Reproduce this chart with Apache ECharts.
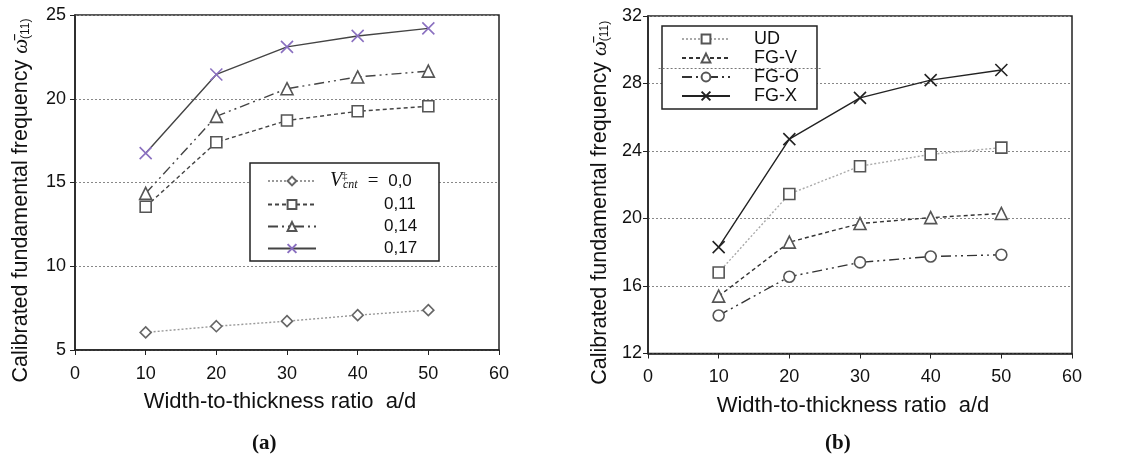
<!DOCTYPE html>
<html>
<head>
<meta charset="utf-8">
<script src="https://cdn.jsdelivr.net/npm/echarts@6/dist/echarts.min.js"></script>
<style>
  html, body { margin: 0; padding: 0; background: #fff; }
  #chart { width: 1129px; height: 459px; }
</style>
</head>
<body>
<div id="chart"></div>
<script>
// width-to-thickness ratio a/d
const ratios = [10, 20, 30, 40, 50];

// (a) CNT volume fraction V*cnt
const vcnt00 = [6.05, 6.42, 6.72, 7.08, 7.38];
const vcnt011 = [13.55, 17.4, 18.7, 19.25, 19.55];
const vcnt014 = [14.35, 18.95, 20.6, 21.3, 21.65];
const vcnt017 = [16.75, 21.45, 23.1, 23.75, 24.2];

// (b) CNT distribution
const ud = [16.8, 21.45, 23.1, 23.8, 24.2];
const fgV = [15.4, 18.6, 19.7, 20.05, 20.3];
const fgO = [14.25, 16.55, 17.4, 17.75, 17.85];
const fgX = [18.3, 24.7, 27.15, 28.2, 28.8];

// stray dotted rule that runs through legend (b) in the original figure
const strayRuleB = [[1.5, 28.9], [24.5, 28.9]];

const FONT = '"Liberation Sans", Arial, sans-serif';
const SERIF = '"Liberation Serif", "DejaVu Serif", serif';
const CROSS = 'path://M0,0L10,10M10,0L0,10';

const pairs = (ys) => ratios.map((x, i) => [x, ys[i]]);

const chart = echarts.init(document.getElementById('chart'), null, { renderer: 'canvas' });

function xAxisCfg(gridIndex) {
  return {
    gridIndex,
    type: 'value',
    min: 0,
    max: 60,
    interval: 10,
    name: 'Width-to-thickness ratio  a/d',
    nameLocation: 'middle',
    nameGap: 41,
    nameTextStyle: { color: '#111', fontSize: 22, fontFamily: FONT, padding: [0, 14, 0, 0] },
    axisLine: { lineStyle: { color: '#222', width: 1.5 } },
    axisTick: { length: 5, lineStyle: { color: '#222' } },
    axisLabel: { color: '#111', fontSize: 18, fontFamily: FONT, margin: 15 },
    splitLine: { show: false },
  };
}

function yAxisCfg(gridIndex, min, max, interval, nameGap, labelMargin) {
  return {
    gridIndex,
    type: 'value',
    min,
    max,
    interval,
    name: 'Calibrated fundamental frequency {om|ω̄}{sub|(11)}',
    nameLocation: 'middle',
    nameGap,
    nameTextStyle: {
      color: '#111',
      fontSize: 21.5,
      fontFamily: FONT,
      padding: [0, 36, 0, 0],
      rich: {
        om: { fontSize: 21, fontFamily: SERIF, fontStyle: 'italic', color: '#111' },
        sub: { fontSize: 12, fontFamily: FONT, color: '#111', verticalAlign: 'bottom', lineHeight: 14 },
      },
    },
    axisLine: { lineStyle: { color: '#222', width: 1.5 } },
    axisTick: { length: 5, lineStyle: { color: '#222' } },
    axisLabel: { color: '#111', fontSize: 18, fontFamily: FONT, margin: labelMargin },
    splitLine: { lineStyle: { color: '#888', type: [2, 2], width: 1 } },
  };
}

function lineSeries(name, data, gi, symbol, lineColor, lineType, markColor, size) {
  return {
    name,
    type: 'line',
    xAxisIndex: gi,
    yAxisIndex: gi,
    data: pairs(data),
    symbol,
    symbolSize: size,
    showAllSymbol: true,
    lineStyle: { color: lineColor, type: lineType, width: 1.4 },
    itemStyle: {
      color: symbol === CROSS ? 'none' : '#fff',
      borderColor: markColor,
      borderWidth: 1.6,
    },
    emphasis: { disabled: true },
    z: 3,
  };
}

const labelsA = {
  '0,0': '{pad0|}{v|V}{s|‡}{c|cnt}{e|=}{n|0,0}',
  '0,11': '{pad|}{n|0,11}',
  '0,14': '{pad|}{n|0,14}',
  '0,17': '{pad|}{n|0,17}',
};

const captionRich = {
  p: { fontSize: 21, fontFamily: SERIF, color: '#111' },
  b: { fontSize: 21, fontFamily: SERIF, fontWeight: 'bold', color: '#111' },
};

const seriesX = lineSeries('FG-X', fgX, 1, CROSS, '#222', 'solid', '#222', 12);
seriesX.z = 6;
seriesX.markLine = {
  silent: true,
  symbol: 'none',
  label: { show: false },
  lineStyle: { color: '#777', type: [2, 2], width: 1 },
  data: [[{ coord: strayRuleB[0] }, { coord: strayRuleB[1] }]],
};

const option = {
  animation: false,
  backgroundColor: '#fff',
  title: [
    { text: '{p|(}{b|a}{p|)}', left: 247, top: 428, textStyle: { rich: captionRich } },
    { text: '{p|(}{b|b}{p|)}', left: 820, top: 428, textStyle: { rich: captionRich } },
  ],
  grid: [
    { left: 75, top: 15, width: 424, height: 335, show: true, borderColor: '#222', borderWidth: 1.5, backgroundColor: 'transparent' },
    { left: 648, top: 16, width: 424, height: 337.5, show: true, borderColor: '#222', borderWidth: 1.5, backgroundColor: 'transparent' },
  ],
  xAxis: [xAxisCfg(0), xAxisCfg(1)],
  yAxis: [yAxisCfg(0, 5, 25, 5, 43, 9), yAxisCfg(1, 12, 32, 4, 37, 6)],
  legend: [
    {
      data: ['0,0', '0,11', '0,14', '0,17'],
      orient: 'vertical',
      left: 250,
      top: 163,
      padding: [8, 19, 4, 17],
      itemWidth: 48,
      itemHeight: 11,
      itemGap: 5,
      backgroundColor: '#fff',
      borderColor: '#222',
      borderWidth: 1.5,
      borderRadius: 0,
      selectedMode: false,
      formatter: (name) => labelsA[name],
      textStyle: {
        color: '#111',
        rich: {
          pad0: { width: 9, lineHeight: 20 },
          pad: { width: 63, lineHeight: 20 },
          v: { width: 12, fontSize: 20, fontFamily: SERIF, fontStyle: 'italic', lineHeight: 20 },
          s: { width: 1, fontSize: 11, fontFamily: SERIF, lineHeight: 12, verticalAlign: 'top' },
          c: { width: 21, fontSize: 12, fontFamily: SERIF, fontStyle: 'italic', lineHeight: 12, verticalAlign: 'bottom' },
          e: { width: 18, align: 'center', fontSize: 19, fontFamily: SERIF, lineHeight: 20 },
          n: { width: 36, fontSize: 17, fontFamily: FONT, lineHeight: 20 },
        },
      },
    },
    {
      data: ['UD', 'FG-V', 'FG-O', 'FG-X'],
      orient: 'vertical',
      left: 662,
      top: 26,
      padding: [4, 18, 4, 19],
      itemWidth: 48,
      itemHeight: 11,
      itemGap: 1,
      backgroundColor: '#fff',
      borderColor: '#222',
      borderWidth: 1.5,
      borderRadius: 0,
      selectedMode: false,
      formatter: (name) => '{pad|}{n|' + name + '}',
      textStyle: {
        color: '#111',
        rich: {
          pad: { width: 19, lineHeight: 20 },
          n: { width: 44, fontSize: 18, fontFamily: FONT, lineHeight: 20 },
        },
      },
    },
  ],
  series: [
    lineSeries('0,0', vcnt00, 0, 'diamond', '#999', [2, 2], '#666', 11),
    lineSeries('0,11', vcnt011, 0, 'rect', '#444', [4, 3], '#555', 11),
    lineSeries('0,14', vcnt014, 0, 'triangle', '#444', [10, 4, 2, 4, 2, 4], '#555', 12),
    lineSeries('0,17', vcnt017, 0, CROSS, '#444', 'solid', '#8a70c0', 12),
    lineSeries('UD', ud, 1, 'rect', '#aaa', [2, 2], '#555', 11),
    lineSeries('FG-V', fgV, 1, 'triangle', '#333', [4, 3], '#555', 12),
    lineSeries('FG-O', fgO, 1, 'circle', '#333', [10, 4, 2, 4, 2, 4], '#555', 11),
    seriesX,
  ],
};

chart.setOption(option);
</script>
</body>
</html>
